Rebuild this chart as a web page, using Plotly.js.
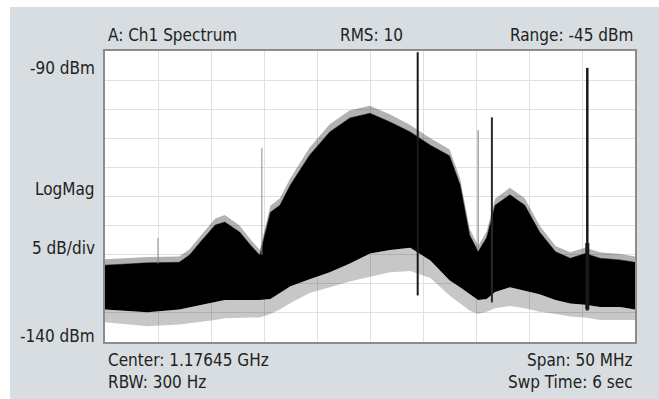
<!DOCTYPE html>
<html>
<head>
<meta charset="utf-8">
<script src="https://cdn.plot.ly/plotly-3.0.1.min.js"></script>
<style>
  html, body { margin: 0; padding: 0; background: #ffffff; width: 659px; height: 399px; overflow: hidden; }
  #chart { position: absolute; left: 10px; top: 7px; width: 649px; height: 392px; }
</style>
</head>
<body>
<div id="chart"></div>
<script>
// Frequency offset from centre (MHz) at which envelope values were read
const freq = [-25, -21, -18, -17, -16, -14.6, -13.7, -12.3, -11.3, -10.4, -9.4, -8.5, -7.5, -5.7, -3.8, -1.9, 0, 1.9, 3.8, 5.7, 7.5, 8.5, 9.4, 10.2, 11, 11.8, 13.2, 14.6, 16, 17.5, 18.9, 20.3, 21.7, 23.6, 25];
// Noise-peak fringe above the solid trace (dBm)
const fringe = [-125.8, -125.4, -125.3, -124.0, -121.8, -118.8, -118.2, -120.0, -122.3, -124.2, -116.6, -115.3, -111.8, -106.6, -102.6, -100.2, -99.4, -100.9, -102.7, -105.0, -106.9, -111.9, -120.5, -123.5, -121.0, -115.4, -113.5, -115.3, -120.0, -123.5, -124.6, -123.8, -124.6, -124.9, -125.3];
// Upper edge of the solid trace (dBm)
const upper = [-126.8, -126.4, -126.3, -125.0, -122.8, -119.9, -119.4, -121.1, -123.3, -125.1, -117.7, -116.5, -113.0, -107.9, -103.9, -101.5, -100.7, -102.2, -103.9, -106.2, -108.0, -113.0, -121.6, -124.5, -122.1, -116.5, -114.7, -116.5, -121.1, -124.5, -125.6, -124.8, -125.6, -125.9, -126.3];
// Lower edge of the solid trace (dBm)
const lower = [-134.4, -134.9, -134.4, -134.0, -133.6, -133.1, -132.8, -132.8, -132.8, -132.8, -132.6, -131.6, -130.4, -129.2, -128.0, -126.5, -124.8, -124.2, -123.8, -126.0, -129.4, -130.6, -131.8, -132.8, -132.6, -131.4, -130.6, -131.2, -131.8, -132.8, -133.4, -133.6, -134.0, -134.0, -134.4];
// Lowest noise dips below the solid trace (dBm)
const dips = [-136.6, -137.3, -137.0, -136.8, -136.5, -136.2, -135.9, -135.8, -135.8, -135.8, -135.2, -134.4, -133.3, -131.6, -130.6, -129.6, -128.8, -128.0, -127.8, -129.0, -132.0, -133.4, -134.6, -135.2, -134.8, -134.2, -133.8, -134.2, -134.8, -135.2, -135.6, -135.8, -136.2, -136.2, -136.2];

// Discrete spurs: frequency offset (MHz), peak level and foot level (dBm)
const spurFreq = [-20.0, -10.2, 4.5, 10.2, 11.5, 20.5];
const spurPeak = [-122.1, -106.7, -90.2, -103.6, -101.4, -92.9];
const spurFoot = [-126.5, -125.0, -132.0, -124.0, -133.2, -134.6];
// Broadened skirt at the foot of the strongest right-hand spur
const skirtFreq = [20.5];
const skirtTop = [-123.0];
const skirtFoot = [-134.4];

// Header / footer / side labels
const topLabels = ["A: Ch1 Spectrum", "RMS: 10", "Range: -45 dBm"];
const sideLabels = ["-90 dBm", "LogMag", "5 dB/div", "-140 dBm"];
const bottomLabels = ["Center: 1.17645 GHz", "RBW: 300 Hz", "Span: 50 MHz", "Swp Time: 6 sec"];

// ---------- styling / layout (positions in window pixels) ----------
const PLOT = {l: 105, r: 635, t: 51, b: 342};
const DIV = {x: 10, y: 7, w: 649, h: 392};
const px = x => (x - PLOT.l) / (PLOT.r - PLOT.l);
const py = y => (PLOT.b - y) / (PLOT.b - PLOT.t);

const spurStyle = [
  {c: '#8a8a8a', w: 1}, {c: '#8a8a8a', w: 1}, {c: '#1a1a1a', w: 2},
  {c: '#8a8a8a', w: 1.2}, {c: '#2a2a2a', w: 2}, {c: '#1a1a1a', w: 2.5}
];

const noLine = {width: 0, color: 'rgba(0,0,0,0)'};
const traces = [
  {x: freq, y: dips, type: 'scatter', mode: 'lines', line: noLine, hoverinfo: 'skip'},
  {x: freq, y: lower, type: 'scatter', mode: 'lines', fill: 'tonexty', fillcolor: 'rgba(0,0,0,0.22)', line: noLine, hoverinfo: 'skip'},
  {x: freq, y: upper, type: 'scatter', mode: 'lines', fill: 'tonexty', fillcolor: '#000000', line: {width: 0.5, color: '#000000'}, hoverinfo: 'skip'},
  {x: freq, y: fringe, type: 'scatter', mode: 'lines', fill: 'tonexty', fillcolor: 'rgba(0,0,0,0.3)', line: noLine, hoverinfo: 'skip'}
];
skirtFreq.forEach((f, i) => {
  traces.push({x: [f, f], y: [skirtFoot[i], skirtTop[i]], type: 'scatter', mode: 'lines',
    line: {color: '#111111', width: 4}, hoverinfo: 'skip'});
});
spurFreq.forEach((f, i) => {
  traces.push({x: [f, f], y: [spurFoot[i], spurPeak[i]], type: 'scatter', mode: 'lines',
    line: {color: spurStyle[i].c, width: spurStyle[i].w}, hoverinfo: 'skip'});
});

const font = {family: 'DejaVu Sans Condensed, Liberation Sans Narrow, sans-serif', size: 17, color: '#222222'};
const ann = [];
const add = (text, x, y, xa) => ann.push({text, x: px(x), y: py(y), xref: 'paper', yref: 'paper',
  xanchor: xa, yanchor: 'middle', showarrow: false, font});
add(topLabels[0], 106, 35, 'left');
add(topLabels[1], 371, 35, 'center');
add(topLabels[2], 635, 35, 'right');
add(sideLabels[0], 97, 68, 'right');
add(sideLabels[1], 97, 189, 'right');
add(sideLabels[2], 97, 248, 'right');
add(sideLabels[3], 97, 336, 'right');
add(bottomLabels[0], 106, 360, 'left');
add(bottomLabels[1], 106, 382, 'left');
add(bottomLabels[2], 635, 360, 'right');
add(bottomLabels[3], 635, 382, 'right');

const axisCommon = {showticklabels: false, ticks: '', zeroline: false, showgrid: true,
  gridcolor: '#e0e0e0', gridwidth: 1, showline: true, linecolor: '#8c8c8c', linewidth: 2, mirror: true, fixedrange: true};

const layout = {
  width: DIV.w, height: DIV.h,
  margin: {l: PLOT.l - DIV.x, r: DIV.x + DIV.w - PLOT.r, t: PLOT.t - DIV.y, b: DIV.y + DIV.h - PLOT.b, pad: 0},
  paper_bgcolor: '#d7dde0', plot_bgcolor: '#ffffff',
  showlegend: false,
  xaxis: Object.assign({range: [-25, 25], dtick: 5, tick0: -25}, axisCommon),
  yaxis: Object.assign({range: [-140, -90], dtick: 5, tick0: -140}, axisCommon),
  annotations: ann
};

Plotly.newPlot('chart', traces, layout, {displayModeBar: false, staticPlot: true});
</script>
</body>
</html>
